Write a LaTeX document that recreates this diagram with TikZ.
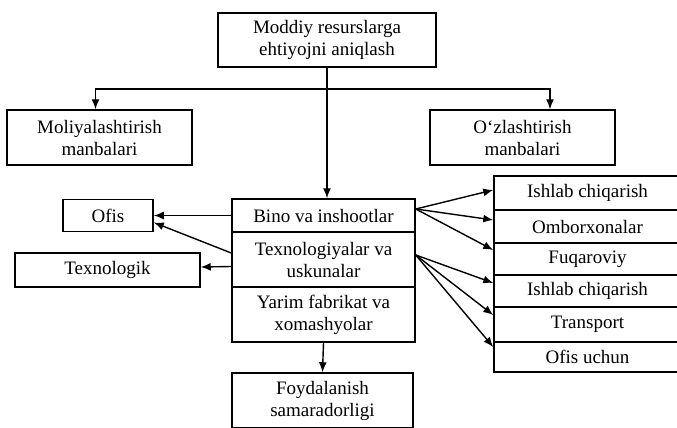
\documentclass[tikz,border=0pt]{standalone}
\usepackage{fontspec}
\setmainfont{Liberation Serif}
\usetikzlibrary{arrows.meta}
\begin{document}
\begin{tikzpicture}[x=1pt,y=-1pt,
  box/.style={draw=black,line width=1.5pt,rectangle,inner sep=0pt,align=center,
    font=\fontsize{19}{22}\selectfont},
  conn/.style={line width=1.4pt,-{Latex[length=10pt,width=8pt]}},
  line/.style={line width=1.4pt}]
\useasboundingbox (0,0) rectangle (677,428);
% top
\node[box,minimum width=218pt,minimum height=54pt] (top) at (327,40) {Moddiy resurslarga\\ehtiyojni aniqlash};
\node[box,minimum width=185pt,minimum height=55pt] (mol) at (99.5,137.5) {Moliyalashtirish\\manbalari};
\node[box,minimum width=185pt,minimum height=55pt] (ozl) at (522.5,137.5) {O‘zlashtirish\\manbalari};
% central stack
\node[box,minimum width=183pt,minimum height=33pt] (bino) at (323.5,215.5) {Bino va inshootlar};
\node[box,minimum width=183pt,minimum height=55pt] (texno) at (323.5,259.5) {Texnologiyalar va\\uskunalar};
\node[box,minimum width=183pt,minimum height=55pt] (yarim) at (323.5,314.5) {Yarim fabrikat va\\xomashyolar};
\node[box,minimum width=181pt,minimum height=55pt] (foyd) at (322.5,400.5) {Foydalanish\\samaradorligi};
% left
\node[box,minimum width=90pt,minimum height=32pt] (ofis) at (108,215.5) {Ofis};
\node[box,minimum width=185pt,minimum height=34pt] (texl) at (107.5,270) {Texnologik};
% right stack
\node[box,minimum width=187pt,minimum height=34pt] (r1) at (587.5,193) {Ishlab chiqarish};
\node[box,minimum width=187pt,minimum height=33pt] (r2) at (587.5,226.5) {Omborxonalar};
\node[box,minimum width=187pt,minimum height=32pt] (r3) at (587.5,259) {Fuqaroviy};
\node[box,minimum width=187pt,minimum height=32pt] (r4) at (587.5,291) {Ishlab chiqarish};
\node[box,minimum width=187pt,minimum height=35pt] (r5) at (587.5,324.5) {Transport};
\node[box,minimum width=187pt,minimum height=30pt] (r6) at (587.5,357) {Ofis uchun};
% connectors top
\coordinate (j) at (327,89);
\draw[line] (top.south) -- (j);
\draw[conn] (j) -| ([xshift=-4pt]mol.north);
\draw[conn] (j) -| ([xshift=27.5pt]ozl.north);
\draw[conn] (j) -- (j |- bino.north);
\draw[conn] (yarim.south) -- (foyd.north);
% left arrows
\draw[conn] (bino.west) -- (ofis.east);
\draw[conn] ([yshift=6.5pt]texno.west) -- ([yshift=-7pt]ofis.east);
\draw[conn] ([yshift=-7pt]texno.west) -- ([yshift=3pt]texl.east);
% right arrows
\draw[conn] ([yshift=6.5pt]bino.east) -- ([yshift=3pt]r1.west);
\draw[conn] ([yshift=6.5pt]bino.east) -- ([yshift=6.5pt]r2.west);
\draw[conn] ([yshift=6.5pt]bino.east) -- ([yshift=9pt]r3.west);
\draw[conn] ([yshift=4.5pt]texno.east) -- ([yshift=8pt]r4.west);
\draw[conn] ([yshift=4.5pt]texno.east) -- ([yshift=9.5pt]r5.west);
\draw[conn] ([yshift=4.5pt]texno.east) -- ([yshift=10pt]r6.west);
\end{tikzpicture}
\end{document}
